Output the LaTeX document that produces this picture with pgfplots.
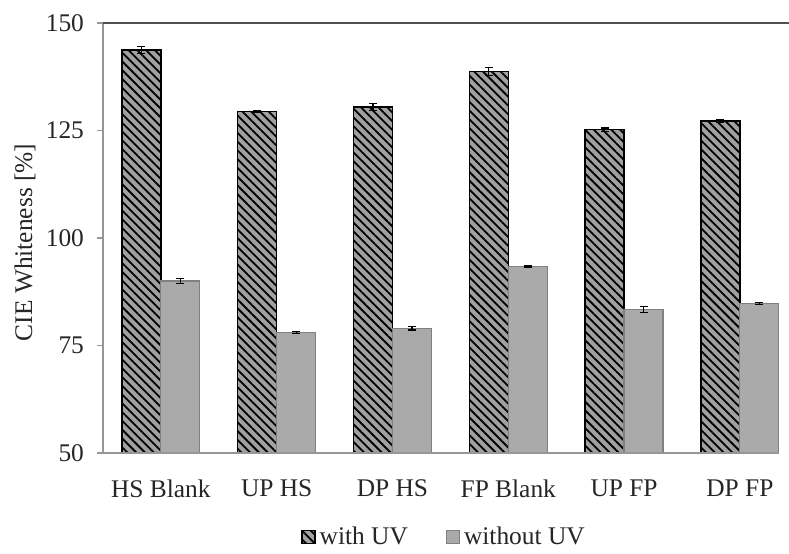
\documentclass[border=0pt]{standalone}
\usepackage{fontspec}
\setmainfont{Liberation Serif}
\usepackage{pgfplots}
\pgfplotsset{compat=1.18}
\usetikzlibrary{patterns.meta}
\definecolor{barfill}{RGB}{160,160,160}
\definecolor{barfilltwo}{RGB}{170,170,170}
\definecolor{baredge}{RGB}{128,128,128}
\definecolor{axgray}{RGB}{150,150,150}
\definecolor{topgray}{RGB}{80,80,80}
\newcommand{\cf}{\fontsize{12.7}{15}\selectfont}
\pgfplotsset{myerr/.style={
  error bars/y dir=both, error bars/y explicit,
  error bars/error bar style={black, line width=0.6pt},
  error bars/error mark options={rotate=90, mark size=2pt, black, line width=0.6pt}}}
\begin{document}
\begin{tikzpicture}
\path[use as bounding box] (-51.5pt,-50pt) rectangle (343pt,226.5pt);
\begin{axis}[
  scale only axis, width=343pt, height=215pt,
  at={(0,0)}, anchor=south west,
  xmin=-0.5, xmax=5.424, ymin=50, ymax=150,
  ybar=0pt, bar width=19.5pt,
  clip mode=individual,
  xtick={0,...,5},
  xticklabels={HS Blank, UP HS, DP HS, FP Blank, UP FP, DP FP},
  ytick={50,75,100,125,150},
  xtick pos=bottom, ytick pos=left,
  axis line style={draw=none},
  x tick style={draw=none},
  y tick style={draw=axgray, line width=0.6pt},
  tick align=outside, major tick length=3pt,
  /pgf/number format/assume math mode=true,
  tick label style={font=\cf, text=black!85},
  xticklabel style={yshift=-7pt},
  yticklabel style={xshift=-3pt},
  ylabel={CIE Whiteness [\%]},
  label style={font=\cf, text=black!85},
  ylabel style={at={(axis description cs:-0.1137,0.49)}, anchor=center},
  legend style={draw=none, font=\cf, text=black!85, legend columns=2,
    at={(axis description cs:0.4985,-0.1953)}, anchor=center,
    /tikz/every even column/.append style={column sep=17pt},
    /tikz/every odd column/.append style={column sep=0pt}},
  legend image code/.code={\draw[#1] (0pt,-3.25pt) rectangle (6.5pt,3.25pt);},
]
\addplot[myerr, draw=black, line width=0.75pt, fill=barfill,
  postaction={pattern={Lines[angle=-45, distance=3.1pt, line width=0.9pt]}, pattern color=black}]
  coordinates {
  (0,143.7) +- (0,0.8)
  (1,129.4) +- (0,0.3)
  (2,130.5) +- (0,0.8)
  (3,138.7) +- (0,0.9)
  (4,125.2) +- (0,0.4)
  (5,127.2) +- (0,0.4)
};
\addlegendentry{with UV}
\addplot[myerr, draw=baredge, line width=0.6pt, fill=barfilltwo]
  coordinates {
  (0,90.0) +- (0,0.6)
  (1,78.0) +- (0,0.3)
  (2,79.0) +- (0,0.4)
  (3,93.3) +- (0,0.2)
  (4,83.3) +- (0,0.7)
  (5,84.8) +- (0,0.2)
};
\addlegendentry{without UV}
\draw[axgray, line width=0.8pt] (rel axis cs:0,0) -- (rel axis cs:0,1);
\draw[axgray, line width=0.8pt] (rel axis cs:0,0) -- (rel axis cs:0.985,0);
\draw[topgray, line width=1pt] (rel axis cs:0,1) -- (rel axis cs:1,1);
\end{axis}
\end{tikzpicture}
\end{document}
